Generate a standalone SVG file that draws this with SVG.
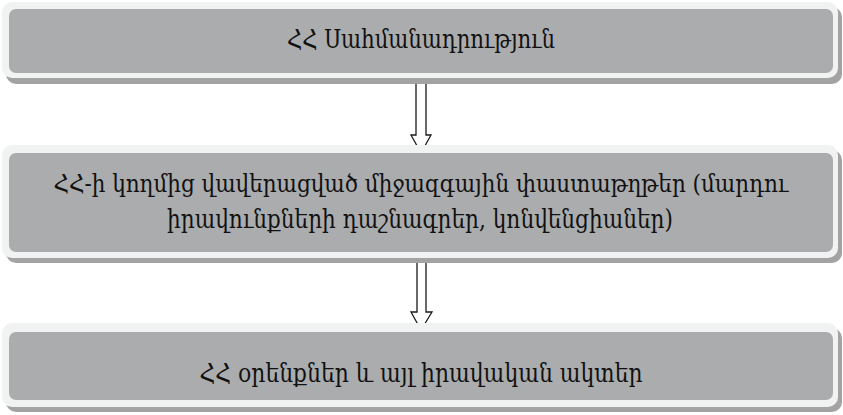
<svg xmlns="http://www.w3.org/2000/svg" width="843" height="415" viewBox="0 0 843 415">
  <defs>
    <style>
      .shadow { fill: #a3a3a3; }
      .outer { fill: #f1f2f2; }
      .inner { fill: #abacae; }
      .label { font-family: "DejaVu Serif Condensed", "DejaVu Serif", serif; font-size: 26px; fill: #111; text-anchor: middle; }
      .long { font-size: 24px; }
      .arrow { fill: #ffffff; stroke: #1a1a1a; stroke-width: 1.3; stroke-linejoin: miter; }
    </style>
  </defs>
  <rect width="843" height="415" fill="#ffffff"/>

  <g id="connectors">
    <polygon class="arrow" points="416,83 426,83 426,135 431,135 421,153 411,135 416,135"/>
    <polygon class="arrow" points="417,259 426,259 426,312 432,312 421,330 411,312 417,312"/>
  </g>

  <g id="node1">
    <rect class="shadow" x="6" y="7" width="836" height="77" rx="10"/>
    <rect class="outer" x="2" y="2" width="836" height="76" rx="10"/>
    <rect class="inner" x="9" y="9" width="824" height="64" rx="7"/>
    <text class="label" x="421" y="48" textLength="268" lengthAdjust="spacingAndGlyphs">ՀՀ Սահմանադրություն</text>
  </g>

  <g id="node2">
    <rect class="shadow" x="6" y="150" width="836" height="113" rx="10"/>
    <rect class="outer" x="2" y="145" width="836" height="113" rx="10"/>
    <rect class="inner" x="9" y="153" width="824" height="99" rx="7"/>
    <text class="label long" x="421" y="192" textLength="735" lengthAdjust="spacingAndGlyphs">ՀՀ-ի կողմից վավերացված միջազգային փաստաթղթեր (մարդու</text>
    <text class="label" x="420" y="228" textLength="506" lengthAdjust="spacingAndGlyphs">իրավունքների դաշնագրեր, կոնվենցիաներ)</text>
  </g>

  <g id="node3">
    <rect class="shadow" x="6" y="328" width="836" height="84" rx="10"/>
    <rect class="outer" x="2" y="323" width="836" height="84" rx="10"/>
    <rect class="inner" x="9" y="332" width="824" height="68" rx="7"/>
    <text class="label" x="421" y="382" textLength="443" lengthAdjust="spacingAndGlyphs">ՀՀ օրենքներ և այլ իրավական ակտեր</text>
  </g>
</svg>
